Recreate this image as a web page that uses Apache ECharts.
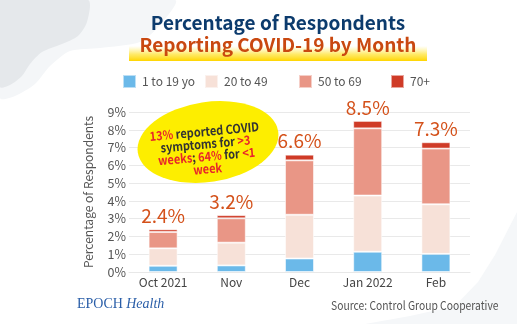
<!DOCTYPE html>
<html>
<head>
<meta charset="utf-8">
<script src="https://cdn.jsdelivr.net/npm/echarts@6/dist/echarts.min.js"></script>
<style>
  html, body { margin: 0; padding: 0; background: #ffffff; }
  #chart { width: 517px; height: 324px; }
</style>
</head>
<body>
<div id="chart"></div>
<script>
// Monthly share of respondents reporting COVID-19, split by age group (percent)
const months = ['Oct 2021', 'Nov', 'Dec', 'Jan 2022', 'Feb'];
const age1to19 = [0.35, 0.37, 0.76, 1.14, 1.02];
const age20to49 = [0.98, 1.28, 2.46, 3.16, 2.79];
const age50to69 = [0.92, 1.37, 3.06, 3.78, 3.13];
const age70plus = [0.15, 0.18, 0.32, 0.42, 0.36];
const groupNames = ['1 to 19 yo', '20 to 49', '50 to 69', '70+'];
const groupColors = ['#6bb9e9', '#f7e1d8', '#e99686', '#cf3b27'];
const yTicks = [0, 1, 2, 3, 4, 5, 6, 7, 8, 9];

const groups = [age1to19, age20to49, age50to69, age70plus];
const totalAt = i => groups.reduce((s, arr) => s + arr[i], 0);

const cjk = '"Noto Sans CJK SC", "Noto Sans", sans-serif';
const chart = echarts.init(document.getElementById('chart'), null, { renderer: 'canvas' });

const series = groups.map((arr, k) => ({
  name: groupNames[k],
  type: 'bar',
  stack: 'total',
  data: arr,
  barWidth: 29,
  itemStyle: { color: groupColors[k], borderColor: 'rgba(255,255,255,0.55)', borderWidth: 1 },
  label: k === groups.length - 1 ? {
    show: true,
    position: 'top',
    distance: 4,
    formatter: p => totalAt(p.dataIndex).toFixed(1) + '%',
    color: '#d4511a',
    fontSize: 19,
    fontFamily: cjk
  } : { show: false },
  emphasis: { disabled: true }
}));

// one legend per age group so the swatches sit on fixed columns
const legendLefts = [122, 204, 298, 390];
const legends = groupNames.map((name, k) => ({
  data: [name],
  left: legendLefts[k],
  top: 74,
  padding: 0,
  icon: 'rect',
  itemWidth: 13,
  itemHeight: 13,
  itemGap: 0,
  selectedMode: false,
  textStyle: { color: '#555', fontSize: 12, fontFamily: cjk, padding: [0, 0, 0, 1] }
}));

const stripGradient = {
  type: 'linear', x: 0, y: 0, x2: 0, y2: 1,
  colorStops: [
    { offset: 0, color: 'rgba(255,235,80,0)' },
    { offset: 0.55, color: 'rgba(255,225,40,0.7)' },
    { offset: 1, color: '#ffd500' }
  ]
};

chart.setOption({
  animation: false,
  backgroundColor: '#ffffff',
  grid: { left: 129, right: 47, top: 112, bottom: 52, outerBoundsMode: 'none' },
  legend: legends,
  xAxis: {
    type: 'category',
    data: months,
    axisLine: { show: true, lineStyle: { color: '#e8e8e8' } },
    axisTick: { show: false },
    axisLabel: { color: '#444', fontSize: 12, fontFamily: cjk, margin: 4, interval: 0 }
  },
  yAxis: {
    type: 'value',
    min: yTicks[0],
    max: yTicks[yTicks.length - 1],
    interval: 1,
    name: 'Percentage of Respondents',
    nameLocation: 'middle',
    nameGap: 35,
    nameTextStyle: { color: '#555', fontSize: 12, fontFamily: cjk },
    axisLabel: { formatter: '{value}%', color: '#555', fontSize: 12.5, fontFamily: cjk, margin: 3 },
    splitLine: { lineStyle: { color: '#e9e9e9' } },
    axisLine: { show: false },
    axisTick: { show: false }
  },
  series: series,
  graphic: [
    // soft background shapes
    {
      type: 'polygon', z: -20, silent: true,
      shape: { points: [[0, 0], [175, 0], [160, 25], [140, 42], [100, 48], [70, 51], [50, 66], [35, 84], [15, 96], [0, 98]], smooth: 0.25 },
      style: { fill: '#f4f6f8' }
    },
    {
      type: 'polygon', z: -19, silent: true,
      shape: { points: [[0, 0], [88, 0], [87, 22], [78, 36], [62, 44], [42, 52], [30, 64], [22, 76], [10, 85], [0, 87]], smooth: 0.25 },
      style: { fill: '#e5e8eb' }
    },
    {
      type: 'polygon', z: -20, silent: true,
      shape: { points: [[365, 324], [410, 316], [455, 306], [478, 282], [495, 255], [517, 212], [517, 324]] },
      style: { fill: '#f5f7f9' }
    },
    // title highlight strip
    {
      type: 'rect', z: 1, silent: true,
      shape: { x: 129, y: 46, width: 298, height: 15 },
      style: { fill: stripGradient }
    },
    {
      type: 'text', z: 2, silent: true, x: 278, y: 23,
      style: {
        text: 'Percentage of Respondents',
        fill: '#0c3b6d', font: 'bold 19px ' + cjk,
        align: 'center', verticalAlign: 'middle'
      }
    },
    {
      type: 'text', z: 2, silent: true, x: 278, y: 45,
      style: {
        text: 'Reporting COVID-19 by Month',
        fill: '#c94810', font: 'bold 19px ' + cjk,
        align: 'center', verticalAlign: 'middle'
      }
    },
    // callout bubble (circle stretched into a tilted ellipse)
    {
      type: 'circle', z: 50, silent: true, x: 208, y: 142, rotation: 0.15,
      scaleX: 71 / 40, scaleY: 1,
      shape: { cx: 0, cy: 0, r: 40 },
      style: { fill: '#fdee00' }
    },
    {
      type: 'text', z: 51, silent: true, x: 206, y: 150, rotation: 0.09,
      scaleX: 0.88,
      style: {
        text: '{r|13%} {d|reported COVID}\n{d|symptoms for} {r|>3}\n{r|weeks}{d|;} {r|64%} {d|for} {r|<1}\n{r|week}',
        align: 'center', verticalAlign: 'middle',
        font: 'bold 12.5px ' + cjk,
        rich: {
          r: { fill: '#e8252a', font: 'bold 12.5px ' + cjk, lineHeight: 12.5 },
          d: { fill: '#333333', font: 'bold 12.5px ' + cjk, lineHeight: 12.5 }
        }
      }
    },
    // footer
    {
      type: 'text', silent: true, x: 77, y: 304,
      style: {
        text: '{a|EPOCH} {b|Health}',
        verticalAlign: 'middle',
        rich: {
          a: { fill: '#2a5ea8', font: '14px "Liberation Serif", "DejaVu Serif", serif' },
          b: { fill: '#2a5ea8', font: 'italic 14px "Liberation Serif", "DejaVu Serif", serif' }
        }
      }
    },
    {
      type: 'text', silent: true, x: 331, y: 305, scaleX: 0.86,
      style: {
        text: 'Source: Control Group Cooperative',
        fill: '#555', font: '12px ' + cjk,
        verticalAlign: 'middle'
      }
    }
  ]
});
</script>
</body>
</html>
